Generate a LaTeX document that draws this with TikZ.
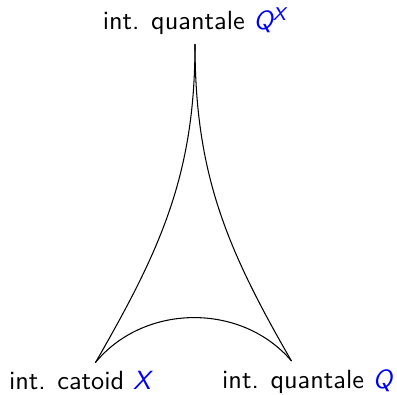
\documentclass[tikz,border=0pt]{standalone}
\usepackage{xcolor}
\usepackage{tikz}
\renewcommand{\familydefault}{\sfdefault}
\newcommand{\var}[1]{\textcolor{blue}{\textit{#1}}}

\begin{document}
\begin{tikzpicture}[x=0.38pt, y=0.38pt,
  obj/.style={anchor=base, font=\sffamily},
  edge/.style={thin, line cap=round}
]
\useasboundingbox (0,0) rectangle (397,395);
\node[obj] (qx) at (195,365) {int. quantale \var{Q\textsuperscript{X}}};
\node[obj] (cat) at (81,5) {int. catoid \var{X}};
\node[obj] (q) at (308,6) {int. quantale \var{Q}};
\draw[edge] (qx.south) to[out=-90, in=60] (cat.52);
\draw[edge] (qx.south) to[out=-90, in=120] (q.128);
\draw[edge] (cat.52) to[bend left=50] (q.128);
\end{tikzpicture}
\end{document}
